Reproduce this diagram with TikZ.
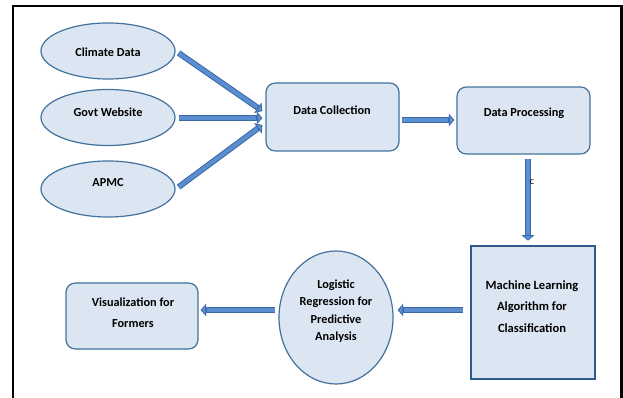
\documentclass[tikz,border=0pt]{standalone}
\usepackage{fontspec}
\setmainfont{Carlito}
\usetikzlibrary{shapes.geometric,arrows.meta,calc}
\definecolor{boxfill}{HTML}{DCE6F2}
\definecolor{boxline}{HTML}{41719C}
\definecolor{mlline}{HTML}{2F5A8C}
\definecolor{arrdark}{HTML}{3A69A6}
\definecolor{arrfill}{HTML}{5B8ED0}
\begin{document}
\begin{tikzpicture}[x=0.75pt,y=-0.75pt,
  font=\fontsize{9.2}{11}\selectfont\bfseries,
  oval/.style={ellipse, draw=boxline, fill=boxfill, line width=0.9pt, inner sep=0pt},
  rbox/.style={rectangle, rounded corners=7pt, draw=boxline, fill=boxfill, line width=0.9pt, inner sep=0pt},
  sqbox/.style={rectangle, draw=mlline, fill=boxfill, line width=2pt, inner sep=0pt},
  txt/.style={align=center, inner sep=0pt},
  flow/.style={draw=arrdark, line width=4.4pt,
    -{Triangle[length=4.2pt,width=9.5pt,line width=0.6pt,fill=arrfill]},
    postaction={draw=arrfill, line width=2.9pt, -, shorten >=4.6pt}}
]
\useasboundingbox (0,0) rectangle (623,398);

% outer frame, open at the bottom
\draw[line width=1.9pt, line join=miter] (13,398) -- (13,6) -- (621.5,6) -- (621.5,398);

% data sources
\node[oval, minimum width=100.5pt, minimum height=42pt] (climate) at (108,51) {};
\node[txt] (climateT) at (108,52) {Climate Data};
\node[oval, minimum width=100.5pt, minimum height=42pt] (govt) at (108,117.5) {};
\node[txt] (govtT) at (108,112) {Govt Website};
\node[oval, minimum width=100.5pt, minimum height=42pt] (apmc) at (108,189) {};
\node[txt] (apmcT) at (108,183) {APMC};

% pipeline stages
\node[rbox, minimum width=99.75pt, minimum height=51pt] (dc) at (332.5,117) {};
\node[txt] (dcT) at (332,110) {Data Collection};
\node[rbox, minimum width=99.75pt, minimum height=50.25pt] (dp) at (523.5,120.5) {};
\node[txt] (dpT) at (524,113) {Data Processing};
\node[sqbox, minimum width=93pt, minimum height=99.75pt] (ml) at (533,312.5) {};
\node[txt, font=\fontsize{9.4}{16}\selectfont\bfseries] (mlT) at (532,306.5)
  {Machine Learning\\Algorithm for\\Classification};
\node[oval, minimum width=85.5pt, minimum height=99.75pt] (log) at (336,317.5) {};
\node[txt, font=\fontsize{9.2}{13}\selectfont\bfseries] (logT) at (336,311)
  {Logistic\\Regression for\\Predictive\\Analysis};
\node[rbox, minimum width=99pt, minimum height=49.5pt] (vis) at (132,316) {};
\node[txt, font=\fontsize{9.2}{15.75}\selectfont\bfseries] (visT) at (133,312.5)
  {Visualization for\\Formers};

% connectors
\draw[flow] ($(climate.east)+(3,2)$) -- ($(dc.west)+(-3,-6)$);
\draw[flow] ($(govt.east)+(3,0.5)$) -- ($(dc.west)+(-3,1)$);
\draw[flow] ($(apmc.east)+(3,-2)$) -- ($(dc.west)+(-3,8)$);
\draw[flow] ($(dc.east)+(2,3)$) -- ($(dp.west)+(-2,-0.5)$);
\draw[flow] ($(dp.south)+(4.5,4)$) -- ($(ml.north)+(-5,-4)$);
\node[txt, font=\fontsize{7.5}{8}\selectfont] (cT) at (532,182) {c};
\draw[flow] ($(ml.west)+(-7,-2.5)$) -- ($(log.east)+(4,-7.5)$);
\draw[flow] ($(log.west)+(-3,-7.5)$) -- ($(vis.east)+(2,-6)$);
\end{tikzpicture}
\end{document}
